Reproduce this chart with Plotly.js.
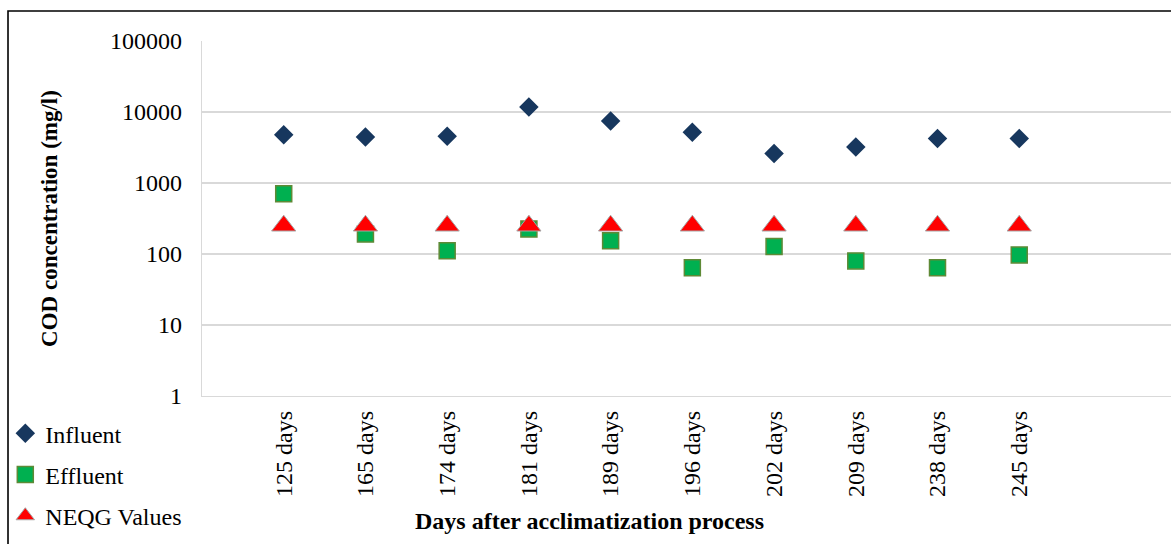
<!DOCTYPE html>
<html>
<head>
<meta charset="utf-8">
<script src="https://cdn.plot.ly/plotly-3.0.1.min.js"></script>
<style>
  html, body { margin: 0; padding: 0; background: #ffffff; }
  #chart { width: 1171px; height: 544px; }
</style>
</head>
<body>
<div id="chart"></div>
<script>
// Sampling days after acclimatization
const days = ['125 days', '165 days', '174 days', '181 days', '189 days',
              '196 days', '202 days', '209 days', '238 days', '245 days'];

// COD concentrations (mg/l)
const influent = [4800, 4450, 4550, 11750, 7470, 5180, 2600, 3210, 4220, 4220];
const effluent = [706, 191, 111, 225, 154, 64, 128, 80, 64, 97];
const neqg     = [250, 250, 250, 250, 250, 250, 250, 250, 250, 250];

const FONT = 'Liberation Serif, Times New Roman, serif';
const FS = 24;

const traces = [
  {
    name: 'Influent', x: days, y: influent, type: 'scatter', mode: 'markers',
    legendgroup: 'a',
    marker: { symbol: 'diamond', size: 15, color: '#17375E', line: { width: 0 } }
  },
  {
    name: 'Effluent', x: days, y: effluent, type: 'scatter', mode: 'markers',
    legendgroup: 'b',
    marker: { symbol: 'square', size: 16, color: '#00B050', line: { width: 1.5, color: '#5E8A36' } }
  },
  {
    name: 'NEQG Values', x: days, y: neqg, type: 'scatter', mode: 'markers',
    legendgroup: 'c',
    marker: { symbol: 'triangle-up', size: 21, color: '#FF0000', line: { width: 1, color: '#A6A6A6' } }
  }
];

const layout = {
  width: 1171, height: 544,
  margin: { l: 202, r: 0, t: 41, b: 148, pad: 0 },
  paper_bgcolor: '#ffffff', plot_bgcolor: '#ffffff',
  font: { family: FONT, size: FS, color: '#000000' },
  hovermode: false,
  showlegend: true,
  legend: {
    x: -0.203, xanchor: 'left', y: -0.043, yanchor: 'top',
    traceorder: 'grouped', tracegroupgap: 7,
    font: { family: FONT, size: FS, color: '#000000' },
    bgcolor: 'rgba(0,0,0,0)', borderwidth: 0
  },
  xaxis: {
    type: 'category',
    range: [-1, 10.857],
    tickangle: -90,
    ticks: '', ticklabelstandoff: 4,
    showgrid: false, zeroline: false,
    showline: true, linecolor: '#D9D9D9', linewidth: 1.3,
    tickfont: { family: FONT, size: FS, color: '#000000' }
  },
  yaxis: {
    type: 'log',
    range: [0, 5],
    dtick: 1,
    tickformat: 'd',
    ticks: '', ticklabelstandoff: 14,
    showgrid: true, gridcolor: '#D9D9D9', gridwidth: 1.3,
    showline: true, linecolor: '#D9D9D9', linewidth: 1.3,
    zeroline: false,
    tickfont: { family: FONT, size: FS, color: '#000000' },
    title: {
      text: '<b>COD concentration (mg/l)</b>',
      font: { family: FONT, size: 23, color: '#000000' },
      standoff: 46
    }
  },
  annotations: [
    {
      text: '<b>Days after acclimatization process</b>',
      xref: 'paper', yref: 'paper', x: 0.4004, y: -0.352,
      xanchor: 'center', yanchor: 'middle', showarrow: false,
      font: { family: FONT, size: FS, color: '#000000' }
    }
  ],
  shapes: [
    {
      type: 'rect', xref: 'paper', yref: 'paper',
      x0: -0.2002, x1: 1.05, y0: -0.6, y1: 1.0845,
      line: { color: '#000000', width: 1.6 }, fillcolor: 'rgba(0,0,0,0)'
    }
  ]
};

Plotly.newPlot('chart', traces, layout, { displayModeBar: false, staticPlot: true });
</script>
</body>
</html>
